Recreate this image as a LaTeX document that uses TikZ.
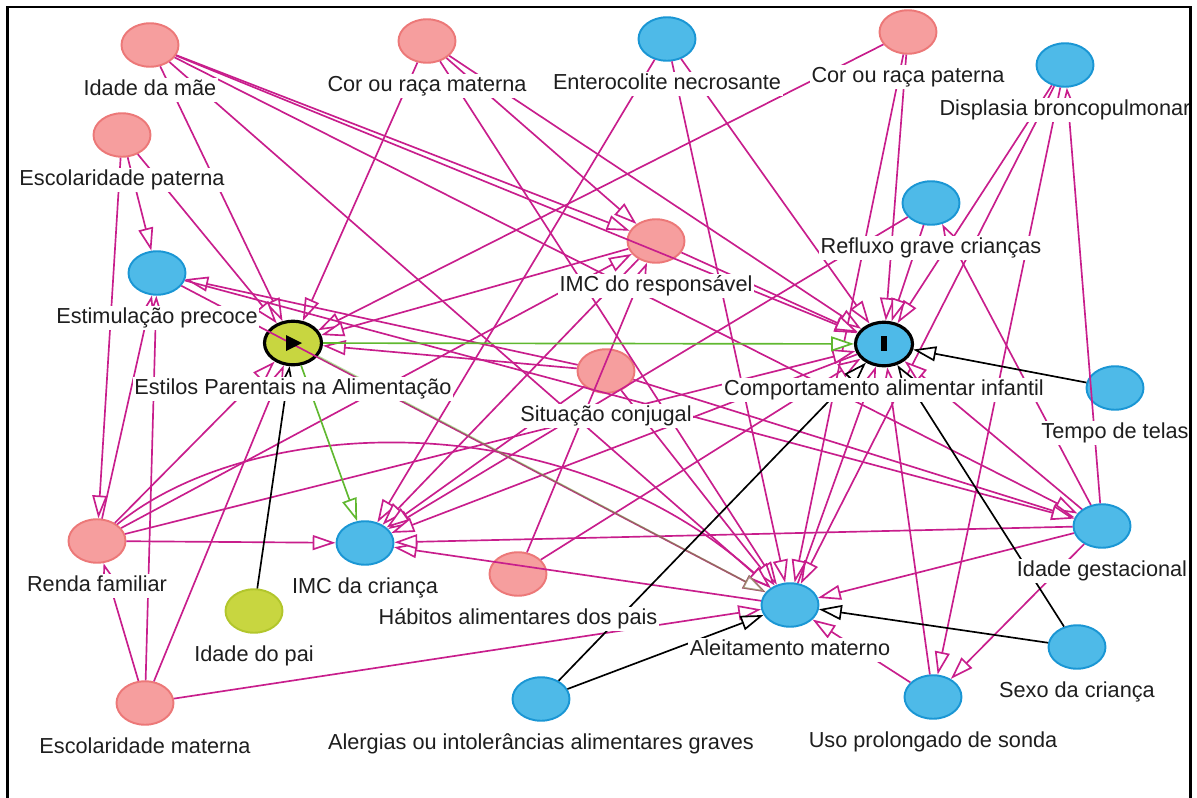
\documentclass[tikz,border=0pt]{standalone}
\usepackage{fontspec}
\setmainfont{Liberation Sans}
\usetikzlibrary{positioning,shapes.geometric,arrows.meta}
\definecolor{pinkfill}{RGB}{246,158,158}
\definecolor{pinkline}{RGB}{236,120,120}
\definecolor{bluefill}{RGB}{78,186,232}
\definecolor{blueline}{RGB}{26,150,212}
\definecolor{expfill}{RGB}{200,214,64}
\definecolor{expline}{RGB}{178,198,44}
\definecolor{biascol}{RGB}{200,30,140}
\definecolor{causcol}{RGB}{96,184,48}
\definecolor{txtcol}{RGB}{30,30,30}
\newcommand{\labfont}{\fontsize{12.35}{14}\selectfont}

\begin{document}
\begin{tikzpicture}[x=0.02cm, y=-0.02cm,
  var/.style = {ellipse, minimum width=1.14cm, minimum height=0.87cm, inner sep=0pt, line width=1.1pt},
  conf/.style = {var, fill=pinkfill, draw=pinkline},
  anc/.style = {var, fill=bluefill, draw=blueline},
  expo/.style = {var, fill=expfill, draw=black, line width=1.8pt},
  outc/.style = {var, fill=bluefill, draw=black, line width=1.8pt},
  lab/.style = {font=\labfont, text=txtcol, fill=white, inner sep=1pt, text height=9pt, text depth=2.6pt},
  bias/.style = {draw=biascol, line width=0.95pt, -{Triangle[fill=white,length=13pt,width=8.5pt]}},
  caus/.style = {bias, draw=causcol},
  oth/.style = {bias, draw=black}
]
\useasboundingbox (0,0) rectangle (1197,798);
% variables
\node[conf] (im) at (150,45) {};
\node[conf] (cm) at (427,41) {};
\node[anc]  (en) at (667,39) {};
\node[conf] (cp) at (908,32) {};
\node[anc]  (db) at (1065,65) {};
\node[conf] (ep) at (122,135) {};
\node[anc]  (es) at (157,273) {};
\node[expo] (E) at (293,343) {};
\node[conf] (ir) at (656,241) {};
\node[anc]  (rg) at (931,203) {};
\node[outc] (C) at (884,344) {};
\node[conf] (sc) at (606,371) {};
\node[anc]  (tt) at (1115,388) {};
\node[anc]  (G) at (1102,526) {};
\node[anc]  (sx) at (1077,647) {};
\node[anc]  (U) at (933,697) {};
\node[anc]  (A) at (790,605) {};
\node[anc]  (al) at (541,699) {};
\node[conf] (hp) at (518,574) {};
\node[anc]  (ic) at (365,543) {};
\node[conf] (rf) at (97,541) {};
\node[var, fill=expfill, draw=expline] (ip) at (254,611) {};
\node[conf] (em) at (145,703) {};
% biasing paths
\foreach \a/\b in {im/E, im/ir, im/C, im/A, im/G, ep/E, ep/es, ep/rf,
    cm/E, cm/ir, cm/A, cm/C, en/C, en/ic, en/A, cp/E, cp/C, cp/A,
    db/C, db/A, db/U, G/db, rg/C, rg/ic, G/rg, ir/E, ir/ic, ir/C,
    hp/ir, hp/C, rf/ir, rf/E, rf/ic, rf/C, rf/es, sc/E, sc/ic, sc/A,
    sc/G, sc/es, es/G, em/rf, em/E, em/A, em/es, A/ic, A/C, U/A, U/C,
    C/ic, G/C, G/ic, G/A, G/U, es/A}
  \draw[bias] (\a) -- (\b);
\draw[bias] (rf) .. controls (250,415) and (560,400) .. (A);
% causal paths
\draw[caus] (E) -- (C);
\draw[caus] (E) -- (ic);
\draw[caus, opacity=0.45] (E) -- (A);
% other arrows
\foreach \a/\b in {ip/E, tt/C, sx/A, sx/C, al/A, al/C}
  \draw[oth] (\a) -- (\b);
% exposure and outcome marks
\fill (E.center) ++(-7,-8) -- ++(0,16) -- ++(16,-8) -- cycle;
\fill (C.center) ++(-3,-8) rectangle ++(6,15);
% labels
\node[lab, below=5.7pt of im] (imL) {Idade da mãe};
\node[lab, below=5.7pt of cm] (cmL) {Cor ou raça materna};
\node[lab, below=5.7pt of en] (enL) {Enterocolite necrosante};
\node[lab, below=5.7pt of cp] (cpL) {Cor ou raça paterna};
\node[lab, below=5.7pt of db] (dbL) {Displasia broncopulmonar};
\node[lab, below=5.7pt of ep] (epL) {Escolaridade paterna};
\node[lab, below=5.7pt of es] (esL) {Estimulação precoce};
\node[lab, below=5.7pt of E] (EL) {Estilos Parentais na Alimentação};
\node[lab, below=5.7pt of ir] (irL) {IMC do responsável};
\node[lab, below=5.7pt of rg] (rgL) {Refluxo grave crianças};
\node[lab, below=5.7pt of C] (CL) {Comportamento alimentar infantil};
\node[lab, below=5.7pt of sc] (scL) {Situação conjugal};
\node[lab, below=5.7pt of tt] (ttL) {Tempo de telas};
\node[lab, below=5.7pt of G] (GL) {Idade gestacional};
\node[lab, below=5.7pt of sx] (sxL) {Sexo da criança};
\node[lab, below=5.7pt of U] (UL) {Uso prolongado de sonda};
\node[lab, below=5.7pt of A] (AL) {Aleitamento materno};
\node[lab, below=5.7pt of al] (alL) {Alergias ou intolerâncias alimentares graves};
\node[lab, below=5.7pt of hp] (hpL) {Hábitos alimentares dos pais};
\node[lab, below=5.7pt of ic] (icL) {IMC da criança};
\node[lab, below=5.7pt of rf] (rfL) {Renda familiar};
\node[lab, below=5.7pt of ip] (ipL) {Idade do pai};
\node[lab, below=5.7pt of em] (emL) {Escolaridade materna};
% frame
\fill[white] (1191.5,0) rectangle (1197,798);
\draw[line width=1.2pt] (7.5,800) -- (7.5,7) -- (1190.5,7) -- (1190.5,800);
\end{tikzpicture}
\end{document}
